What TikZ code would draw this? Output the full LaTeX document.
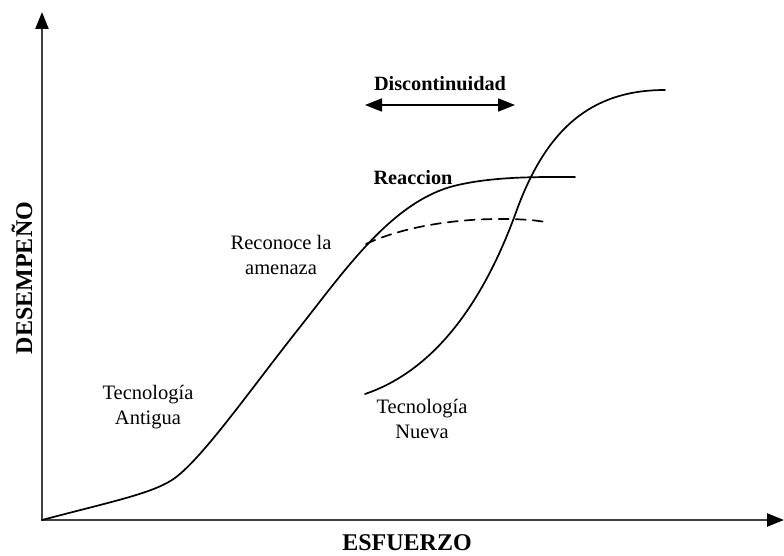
\documentclass[tikz,border=0pt]{standalone}
\usepackage{fontspec}
\setmainfont{Liberation Serif}
\usetikzlibrary{arrows.meta}
\tikzset{
  etiqueta/.style={align=center,font=\fontsize{20.5}{24.5}\selectfont},
  titulo/.style={font=\fontsize{20.3}{24}\selectfont\bfseries},
  ejetitulo/.style={font=\fontsize{24}{26}\selectfont\bfseries},
  eje/.style={line width=2.4pt,draw=black!75,-{Triangle[length=17pt,width=13pt,color=black]}},
  curva/.style={line width=1.7pt}
}
\begin{document}
\begin{tikzpicture}[x=1pt,y=-1pt, line join=round, line cap=round]
\useasboundingbox(0,0)rectangle(784,556);
% ejes
\coordinate(O)at(42,520);
\coordinate(ytip)at(42,12);
\coordinate(xtip)at(784,520);
\draw[eje](O)--(ytip);
\draw[eje](O)--(xtip);
\node[ejetitulo](esf)at(407,543){ESFUERZO};
\node[ejetitulo,rotate=90](des)at(22,278){DESEMPEÑO};
% curvas
\draw[curva](O)..controls(110,502)and(150,494)..(172,480)
  ..controls(200,462)and(250,390)..(300,327)
  ..controls(345,270)and(390,205)..(450,187)
  ..controls(490,176)and(540,177)..(575,177);
\draw[curva,dash pattern=on 10pt off 7pt](366,244)..controls(400,228)and(450,219)..(500,219)
  ..controls(520,219)and(535,220)..(545,222);
\draw[curva](365,394)..controls(430,372)and(480,310)..(515,215)
  ..controls(545,130)and(590,90)..(665,90);
% textos
\node[etiqueta](ant)at(148,407){Tecnología\\Antigua};
\node[etiqueta](rec)at(281,255){Reconoce la\\amenaza};
\node[etiqueta](nue)at(422,419){Tecnología\\Nueva};
\node[titulo](rea)at(413,178){Reaccion};
\node[titulo](dis)at(440,84){Discontinuidad};
\coordinate(dl)at(365,105);
\coordinate(dr)at(515,105);
\draw[line width=1.8pt,{Triangle[length=17pt,width=13pt]}-{Triangle[length=17pt,width=13pt]}](dl)--(dr);
\end{tikzpicture}
\end{document}
